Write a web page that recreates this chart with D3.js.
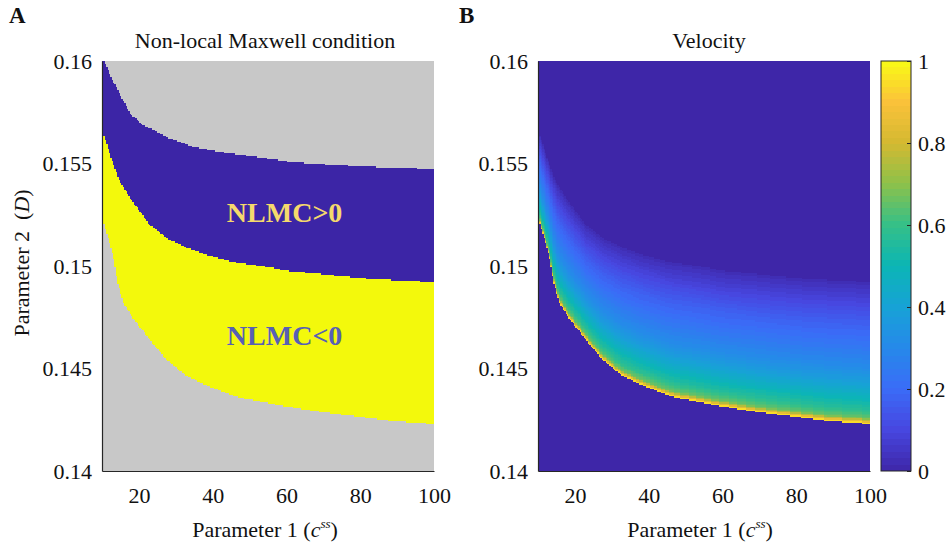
<!DOCTYPE html>
<html>
<head>
<meta charset="utf-8">
<script src="https://cdnjs.cloudflare.com/ajax/libs/d3/7.8.5/d3.min.js"></script>
<style>
  body { margin: 0; background: #fff; }
  text { font-family: "Liberation Serif", "Times New Roman", serif; fill: #111; }
</style>
</head>
<body>
<div id="chart"></div>
<script>
// boundary curves  (x = c^ss, value = D)
var upperX = [10, 10.8, 12.2, 14.9, 17.6, 21.1, 27.6, 34.7, 42, 50.1, 61.8, 69.1, 78, 88.9, 100];
var upperD = [0.1603, 0.15995, 0.15932, 0.15834, 0.15746, 0.15688, 0.15629, 0.15580, 0.15556, 0.15537, 0.15507, 0.15498, 0.15488, 0.15478, 0.15473];

var middleX = [10, 12.2, 14.9, 18.4, 23, 27.6, 33, 38.5, 45.5, 54.7, 60.2, 69.1, 79.9, 93.5, 100];
var middleD = [0.15665, 0.15541, 0.15410, 0.15312, 0.15200, 0.15137, 0.15088, 0.15054, 0.15020, 0.14995, 0.14976, 0.14961, 0.14941, 0.14927, 0.14922];

var lowerX = [10, 13, 14.1, 15.7, 18.4, 23, 27.6, 33, 39.3, 46.6, 56.4, 67.2, 78, 88.9, 100];
var lowerD = [0.15239, 0.15054, 0.14932, 0.14824, 0.14746, 0.14639, 0.14541, 0.14463, 0.14410, 0.14361, 0.14327, 0.14293, 0.14268, 0.14244, 0.14229];

// velocity across the NLMC<0 band: 0 = lower edge, 1 = upper edge
var velT = [0, 0.015, 0.04, 0.1, 0.2, 0.3, 0.4, 0.5, 0.6, 0.7, 0.8, 0.9, 1];
var velV = [1, 0.85, 0.66, 0.57, 0.47, 0.38, 0.31, 0.26, 0.21, 0.17, 0.12, 0.07, 0.02];

// colour map (parula-like)
var cmapStops = [0, 0.1, 0.2, 0.3, 0.4, 0.5, 0.6, 0.7, 0.8, 0.9, 1];
var cmapColors = ["#3e26a8", "#4746e0", "#3a6cf7", "#2689ea", "#17a2d6", "#0bb5b5", "#35c088", "#8dc14a", "#d4b931", "#fbc23a", "#f9fb15"];

var yTicks = [0.14, 0.145, 0.15, 0.155, 0.16];
var xTicks = [20, 40, 60, 80, 100];
var cbTicks = [0, 0.2, 0.4, 0.6, 0.8, 1];

var W = 948, H = 550;
var svg = d3.select("#chart").append("svg").attr("width", W).attr("height", H);

var y = d3.scaleLinear().domain([0.14, 0.16]).range([471, 61]);
var xA = d3.scaleLinear().domain([10, 100]).range([102, 434]);
var xB = d3.scaleLinear().domain([10, 100]).range([538, 870]);

var upper = d3.scaleLinear().domain(upperX).range(upperD).clamp(true);
var middle = d3.scaleLinear().domain(middleX).range(middleD).clamp(true);
var lower = d3.scaleLinear().domain(lowerX).range(lowerD).clamp(true);
var vel = d3.scaleLinear().domain(velT).range(velV).clamp(true);
var cmap = d3.scaleLinear().domain(cmapStops).range(cmapColors).interpolate(d3.interpolateRgb);

var blue = "#3c25a6", yellow = "#f3f90c", grey = "#c8c8c8";

// grid of the computed map
var nx = 240, ny = 280;
var dx = 90 / nx, dd = 0.02 / ny;
function snap(d) { return Math.max(0.14, Math.min(0.16, 0.14 + Math.round((d - 0.14) / dd) * dd)); }

var cols = d3.range(nx).map(function(i) {
  var xc = 10 + (i + 0.5) * dx;
  return { x0: 10 + i * dx, x1: 10 + (i + 1) * dx, u: snap(upper(xc)), m: snap(middle(xc)), l: snap(lower(xc)), xc: xc };
});

// ---------- panel A ----------
var gA = svg.append("g");
gA.append("rect").attr("x", xA(10)).attr("y", y(0.16))
  .attr("width", xA(100) - xA(10)).attr("height", y(0.14) - y(0.16)).attr("fill", grey);

gA.selectAll("rect.pos").data(cols).enter().append("rect")
  .attr("class", "pos")
  .attr("shape-rendering", "crispEdges")
  .attr("x", function(d) { return xA(d.x0); })
  .attr("width", function(d) { return xA(d.x1) - xA(d.x0); })
  .attr("y", function(d) { return y(d.u); })
  .attr("height", function(d) { return y(d.m) - y(d.u); })
  .attr("fill", blue);

gA.selectAll("rect.neg").data(cols).enter().append("rect")
  .attr("class", "neg")
  .attr("shape-rendering", "crispEdges")
  .attr("x", function(d) { return xA(d.x0); })
  .attr("width", function(d) { return xA(d.x1) - xA(d.x0); })
  .attr("y", function(d) { return y(d.m); })
  .attr("height", function(d) { return y(d.l) - y(d.m); })
  .attr("fill", yellow);

gA.append("text").attr("x", xA(59.5)).attr("y", y(0.15215))
  .attr("text-anchor", "middle").style("font-weight", "bold").style("font-size", "28px")
  .style("fill", "#f5d96c").text("NLMC>0");
gA.append("text").attr("x", xA(59.5)).attr("y", y(0.14615))
  .attr("text-anchor", "middle").style("font-weight", "bold").style("font-size", "28px")
  .style("fill", "#5760b4").text("NLMC<0");

// ---------- panel B ----------
var gB = svg.append("g");
gB.append("rect").attr("x", xB(10)).attr("y", y(0.16))
  .attr("width", xB(100) - xB(10)).attr("height", y(0.14) - y(0.16)).attr("fill", cmap(0));

// cells inside the band, merged into runs of equal colour level (64 levels)
var cells = [];
cols.forEach(function(c) {
  var run = null;
  for (var j = 0; j < ny; j++) {
    var d0 = 0.14 + j * dd, dc = d0 + dd / 2;
    if (dc < c.l || dc > c.m) { run = null; continue; }
    var t = (dc - c.l) / (c.m - c.l);
    var k = Math.min(63, Math.floor(vel(t) * 64));
    if (run && run.k === k) { run.d1 = d0 + dd; }
    else { run = { x0: c.x0, x1: c.x1, d0: d0, d1: d0 + dd, k: k }; cells.push(run); }
  }
});

gB.selectAll("rect.cell").data(cells).enter().append("rect")
  .attr("class", "cell")
  .attr("shape-rendering", "crispEdges")
  .attr("x", function(d) { return xB(d.x0); })
  .attr("width", function(d) { return xB(d.x1) - xB(d.x0); })
  .attr("y", function(d) { return y(d.d1); })
  .attr("height", function(d) { return y(d.d0) - y(d.d1); })
  .attr("fill", function(d) { return cmap((d.k + 0.5) / 64); });

// ---------- axes ----------
function styleAxis(g) {
  g.attr("font-family", null);
  g.selectAll(".domain").attr("stroke", "#262626").attr("stroke-width", 1.2);
  g.selectAll("text").style("font-size", "22px").attr("fill", "#111")
    .style("font-family", "'Liberation Serif', 'Times New Roman', serif");
}
var fmt = d3.format(".3~f");

[xA, xB].forEach(function(x) {
  svg.append("g").attr("transform", "translate(0," + y(0.14) + ")")
    .call(d3.axisBottom(x).tickValues(xTicks).tickSize(0).tickPadding(16))
    .call(styleAxis);
  svg.append("g").attr("transform", "translate(" + x(10) + ",0)")
    .call(d3.axisLeft(y).tickValues(yTicks).tickFormat(fmt).tickSize(0).tickPadding(10))
    .call(styleAxis);
});

// ---------- colour bar ----------
var cbX = 881, cbW = 30;
var cb = d3.scaleLinear().domain([0, 1]).range([471, 61]);
var levels = d3.range(64);
svg.append("g").selectAll("rect").data(levels).enter().append("rect")
  .attr("shape-rendering", "crispEdges")
  .attr("x", cbX).attr("width", cbW)
  .attr("y", function(k) { return cb((k + 1) / 64); })
  .attr("height", function(k) { return cb(k / 64) - cb((k + 1) / 64); })
  .attr("fill", function(k) { return cmap((k + 0.5) / 64); });
svg.append("rect").attr("x", cbX).attr("y", cb(1)).attr("width", cbW).attr("height", cb(0) - cb(1))
  .attr("fill", "none").attr("stroke", "#262626").attr("stroke-width", 1);
var cbAxis = svg.append("g").attr("transform", "translate(" + (cbX + cbW) + ",0)")
  .call(d3.axisRight(cb).tickValues(cbTicks).tickFormat(d3.format("~g")).tickSizeInner(-4).tickSizeOuter(0).tickPadding(7))
  .call(styleAxis);
cbAxis.selectAll(".tick line").attr("stroke", "#262626");
cbAxis.select(".domain").remove();

// ---------- titles and labels ----------
svg.append("text").attr("x", 9).attr("y", 23).style("font-weight", "bold").style("font-size", "23px").text("A");
svg.append("text").attr("x", 459).attr("y", 23).style("font-weight", "bold").style("font-size", "23px").text("B");

svg.append("text").attr("x", 265).attr("y", 48).attr("text-anchor", "middle").style("font-size", "22px")
  .text("Non-local Maxwell condition");
svg.append("text").attr("x", 709).attr("y", 48).attr("text-anchor", "middle").style("font-size", "22px")
  .text("Velocity");

[265, 700].forEach(function(cx) {
  var t = svg.append("text").attr("x", cx).attr("y", 537).attr("text-anchor", "middle").style("font-size", "22px");
  t.append("tspan").text("Parameter 1 (");
  t.append("tspan").style("font-style", "italic").text("c");
  t.append("tspan").style("font-style", "italic").style("font-size", "13px").attr("dy", "-9").text("ss");
  t.append("tspan").attr("dy", "9").text(")");
});

var yl = svg.append("text").attr("transform", "translate(29,263) rotate(-90)")
  .attr("text-anchor", "middle").style("font-size", "22px");
yl.append("tspan").text("Parameter 2");
yl.append("tspan").attr("dx", 11).text("(");
yl.append("tspan").style("font-style", "italic").text("D");
yl.append("tspan").text(")");
</script>
</body>
</html>
